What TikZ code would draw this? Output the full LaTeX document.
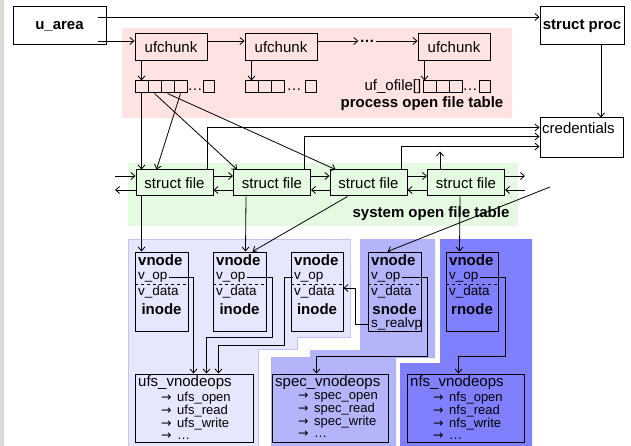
\documentclass[tikz,border=0pt]{standalone}
\usepackage{fontspec}
\setmainfont{Liberation Sans}
\newfontfamily\symf{DejaVu Sans}
\usetikzlibrary{arrows.meta,calc}
\definecolor{pinkbg}{RGB}{255,226,226}
\definecolor{greenbg}{RGB}{228,251,226}
\definecolor{blueA}{RGB}{230,230,252}
\definecolor{blueAb}{RGB}{195,195,245}
\definecolor{blueB}{RGB}{180,180,250}
\definecolor{blueC}{RGB}{128,128,255}
\definecolor{stripgray}{RGB}{221,217,213}
\newcommand{\itemarrow}{\makebox[16pt][l]{{\symf\fontsize{12.5}{12}\selectfont →}}}
\begin{document}
\begin{tikzpicture}[x=1pt,y=-1pt,
  box/.style={draw, line width=1pt, inner sep=0pt},
  arr/.style={-{Straight Barb[length=4pt,width=7pt]}, line width=0.8pt},
  big/.style={font=\fontsize{15}{17}\selectfont},
  bigb/.style={font=\fontsize{15}{17}\selectfont\bfseries},
  mid/.style={font=\fontsize{13.5}{15}\selectfont, inner sep=0pt, inner xsep=1pt},
  sm/.style={font=\fontsize{13}{12}\selectfont, inner sep=0pt},
  cell/.style={draw, line width=1pt, minimum width=13pt, minimum height=12pt, inner sep=0pt},
  lcell/.style={cell, minimum width=11pt},
]
\useasboundingbox (0,0) rectangle (631,446);
% backgrounds
\fill[white] (0,0) rectangle (631,446);
\fill[stripgray] (0,0) rectangle (4,446);
\fill[pinkbg] (122,28) rectangle (512,118);
\fill[greenbg] (128,163) rectangle (518,226);
\filldraw[fill=blueA, draw=blueAb, line width=1pt] (128,239) -- (350,239) -- (350,337) -- (297,337) -- (297,349) -- (258,349) -- (258,446) -- (128,446) -- cycle;
\fill[blueB] (360,239) -- (435,239) -- (435,358) -- (396,358) -- (396,446) -- (271,446) -- (271,357) -- (310,357) -- (310,350) -- (360,350) -- cycle;
\fill[blueC] (440,239) -- (532,239) -- (532,446) -- (400,446) -- (400,363) -- (440,363) -- cycle;

% top row
\node[box, bigb, fill=white, minimum width=93pt, minimum height=38pt] (ua) at (59.5,26) {u\_area\hspace{14pt}};
\node[box, bigb, fill=white, minimum width=84pt, minimum height=38pt] (sp) at (582,26) {struct proc};
\node[box, big, minimum width=72pt, minimum height=27pt] (uf1) at (171,47.5) {ufchunk};
\node[box, big, minimum width=72pt, minimum height=27pt] (uf2) at (281,47.5) {ufchunk};
\node[box, big, minimum width=72pt, minimum height=27pt] (uf3) at (454,47.5) {ufchunk};
\node[bigb, inner sep=1pt] (dts) at (367,41) {…};

% arrays
\node[cell] (a1s1) at (141.5,87) {};
\node[cell] (a1s2) at (154.5,87) {};
\node[cell] (a1s3) at (167.5,87) {};
\node[cell] (a1s4) at (180.5,87) {};
\node[big, inner sep=0pt] (a1d) at (195,90) {…};
\node[lcell] (a1e) at (208.5,87) {};
\node[cell] (a2s1) at (251.5,87) {};
\node[cell] (a2s2) at (264.5,87) {};
\node[cell] (a2s3) at (277.5,87) {};
\node[big, inner sep=0pt] (a2d) at (294,90) {…};
\node[lcell] (a2e) at (310.5,87) {};
\node[cell] (a3s1) at (429.5,87) {};
\node[cell] (a3s2) at (442.5,87) {};
\node[cell] (a3s3) at (455.5,87) {};
\node[big, inner sep=0pt] (a3d) at (470,90) {…};
\node[lcell] (a3e) at (484.5,87) {};
\node[big, anchor=east, inner sep=1pt] (ufo) at (a3s1.west) {uf\_ofile[]};
\node[bigb] (pot) at (422,104) {process open file table};

% credentials
\node[box, fill=white, minimum width=83pt, minimum height=40pt] (cr) at (581.5,138) {};
\node[big, anchor=west, inner sep=0pt] (crt) at (542,128) {credentials};

% struct files
\node[box, big, minimum width=77pt, minimum height=26pt] (sf1) at (174.5,183) {struct file};
\node[box, big, minimum width=77pt, minimum height=26pt] (sf2) at (272,183) {struct file};
\node[box, big, minimum width=77pt, minimum height=26pt] (sf3) at (368.5,183) {struct file};
\node[box, big, minimum width=77pt, minimum height=26pt] (sf4) at (466,183) {struct file};
\node[bigb] (sot) at (431,214) {system open file table};

% vnode boxes
\node[box, minimum width=53pt, minimum height=79pt] (vn1) at (161.5,291.5) {};
\node[box, minimum width=53pt, minimum height=79pt] (vn2) at (239.5,291.5) {};
\node[box, minimum width=52pt, minimum height=79pt] (vn3) at (317,291.5) {};
\node[box, minimum width=53pt, minimum height=79pt] (sn) at (394.5,291.5) {};
\node[box, minimum width=52pt, minimum height=79pt] (rn) at (472,291.5) {};
\foreach \b/\l/\r/\c/\t in {vn1/135/188/161.5/inode, vn2/213/266/239.5/inode, vn3/291/343/317/inode, sn/368/421/394.5/snode, rn/446/498/472/rnode}{
  \draw[dashed, line width=0.8pt] (\l,284) -- (\r,284);
  \node[bigb, anchor=west, inner sep=0pt] (\b-h) at (\l+3,260) {vnode};
  \node[mid, anchor=west] (\b-op) at (\l+2,277) {v\_op};
  \node[mid, anchor=west] (\b-d) at (\l+2,292) {v\_data};
  \node[bigb, inner sep=0pt] (\b-t) at (\c,309) {\t};
}
\node[mid, anchor=west] (sn-r) at (370,324) {s\_realvp};

% ops boxes
\node[box, minimum width=118pt, minimum height=68pt] (ufs) at (194,408) {};
\node[box, minimum width=116pt, minimum height=68pt] (spec) at (330,408) {};
\node[box, minimum width=117pt, minimum height=68pt] (nfs) at (465.5,408) {};
\foreach \b/\l/\p in {ufs/135/ufs, spec/272/spec, nfs/407/nfs}{
  \node[big, anchor=west, inner sep=0pt] (\b-t) at (\l+3,383) {\p\_vnodeops};
  \node[sm, anchor=north west, align=left] (\b-l) at (\l+26,392)
    {\itemarrow\p\_open\\ \itemarrow\p\_read\\ \itemarrow\p\_write\\ \itemarrow…};
}

% connectors: top
\draw[arr] ($(ua.east)+(-9,-9)$) -- ($(sp.west)+(0,-9)$);
\draw[arr] ($(ua.east)+(-9,15)$) -- ($(uf1.west)+(0,-6.5)$);
\draw[arr] ($(uf1.east)+(0,-6.5)$) -- ($(uf2.west)+(0,-6.5)$);
\draw[arr] ($(uf2.east)+(0,-6.5)$) -- ($(dts.west)+(0,0)$);
\draw[arr] ($(dts.east)+(0,0)$) -- ($(uf3.west)+(0,-6.5)$);
\draw[arr] (uf1.south -| a1s1) -- (a1s1.north);
\draw[arr] (uf2.south -| a2s1) -- (a2s1.north);
\draw[arr] ($(uf3.south west)+(7,0)$) -- ($(a3s1.north west)+(2,0)$);
\coordinate (spx) at ($(sp.south)+(19,0)$);
\draw[arr] (spx) -- (spx |- cr.north);

% arrays to struct files
\draw[arr] (a1s1.south) -- (a1s1.south |- sf1.north);
\draw[arr] (a1s2.south) -- ($(sf2.north west)+(4,0)$);
\draw[arr] (a1s3.south) -- ($(sf3.north west)+(6,0)$);
\draw[arr] (a1s4.south) -- ($(sf1.north west)+(21,0)$);

% struct files to credentials
\draw[arr] ($(sf1.north east)+(-6,0)$) |- ($(cr.north west)+(0,10)$);
\draw[arr] ($(sf2.north east)+(-7,0)$) |- ($(cr.north west)+(0,19)$);
\draw[arr] ($(sf3.north east)+(-6,0)$) |- ($(cr.north west)+(0,29)$);
\coordinate (up4) at ($(sf4.north west)+(13,-18)$);
\draw[arr] (sf4.north west -| up4) -- (up4);

% struct file chain
\coordinate (lin) at (115,176);
\coordinate (lout) at (115,190);
\coordinate (rout) at (525,176);
\coordinate (rin) at (525,190);
\draw[arr] (lin) -- (lin -| sf1.west);
\draw[arr] (sf1.west |- lout) -- (lout);
\draw[arr] (sf1.east |- lin) -- (sf2.west |- lin);
\draw[arr] (sf2.west |- lout) -- (sf1.east |- lout);
\draw[arr] (sf2.east |- lin) -- (sf3.west |- lin);
\draw[arr] (sf3.west |- lout) -- (sf2.east |- lout);
\draw[arr] (sf3.east |- lin) -- (sf4.west |- lin);
\draw[arr] (sf4.west |- lout) -- (sf3.east |- lout);
\draw[arr] (sf4.east |- rout) -- (rout);
\draw[arr] (rin) -- (sf4.east |- rin);

% struct files to vnodes
\draw[arr] ($(sf1.south west)+(6,0)$) -- ($(vn1.north west)+(7,0)$);
\draw[arr] ($(sf2.south west)+(13,0)$) -- ($(vn2.north west)+(33,0)$);
\draw[arr] ($(sf3.south west)+(18,0)$) -- ($(vn2.north west)+(40,0)$);
\draw[arr] ($(sf4.south west)+(33,0)$) -- ($(rn.north west)+(14,0)$);
\coordinate (dg) at (550,187);
\draw[arr] (dg) -- ($(sn.north west)+(20,0)$);

% v_op to ops
\coordinate (r2a) at (272,337);
\coordinate (r3a) at (284,345);
\coordinate (rsn) at (355,288);
\coordinate (r4a) at (427,356);
\coordinate (r5a) at (505,356);
\draw[arr] (vn1-op.east) -| ($(ufs.north west)+(59,0)$);
\draw[arr] (vn2-op.east) -| (r2a) -| ($(ufs.north west)+(72,0)$);
\draw[arr] (vn3-op.west) -| (r3a) -| ($(ufs.north west)+(84,0)$);
\draw[arr] (sn.west |- sn-r) -| (rsn) -- (vn3.east |- rsn);
\draw[arr] (sn-op.east) -| (r4a) -| ($(spec.north west)+(45,0)$);
\draw[arr] (rn-op.east) -| (r5a) -| ($(nfs.north west)+(52,0)$);
\end{tikzpicture}
\end{document}
